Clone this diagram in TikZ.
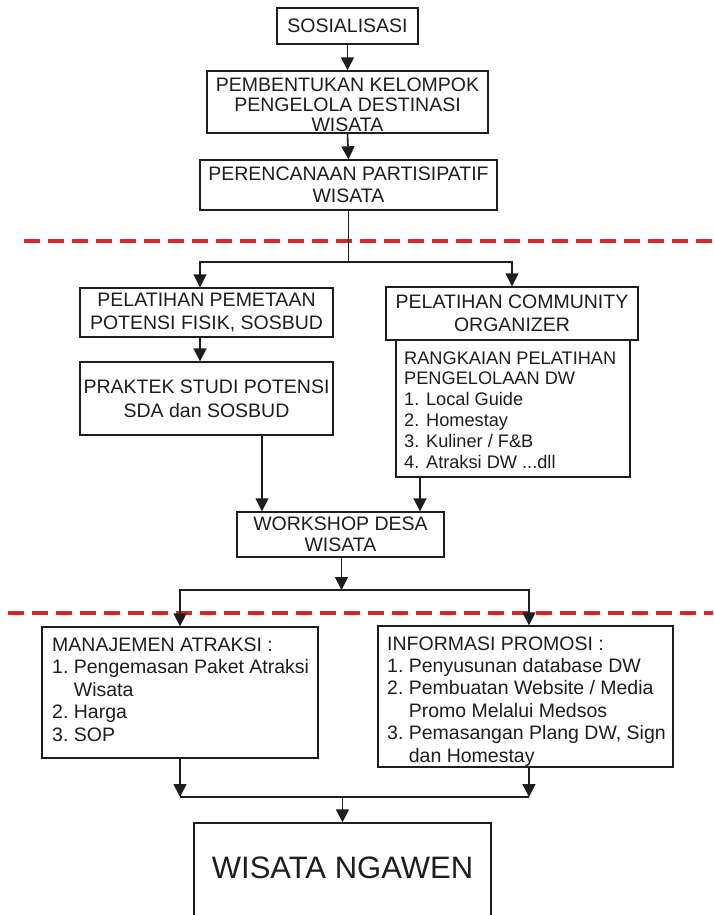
\documentclass[tikz,border=0pt]{standalone}
\usepackage{fontspec}
\setmainfont{Liberation Sans}
\usetikzlibrary{arrows.meta}
\definecolor{ink}{RGB}{30,30,30}
\definecolor{dashred}{RGB}{215,40,40}
\tikzset{
  box/.style={draw=ink, line width=1.4pt, rectangle, inner sep=0pt, align=center, text=ink,
    font=\fontsize{19.5}{22}\selectfont},
  txt/.style={inner sep=0pt, text=ink, font=\fontsize{19.5}{22}\selectfont},
  arr/.style={draw=ink, line width=1.6pt, -{Triangle[length=13pt,width=13pt]}},
  conn/.style={draw=ink, line width=1.6pt},
  redline/.style={draw=dashred, line width=3.2pt, dash pattern=on 16pt off 8pt}
}
\begin{document}
\begin{tikzpicture}[x=1pt,y=-1pt]
\useasboundingbox (0,0) rectangle (713,915);
\fill[white] (0,0) rectangle (713,915);

% red dashed separators
\coordinate (r1a) at (24,241); \coordinate (r1b) at (713,241);
\coordinate (r2a) at (8,613); \coordinate (r2b) at (713,613);
\draw[redline] (r1a) -- (r1b);
\draw[redline] (r2a) -- (r2b);

% boxes
\node[box, minimum width=141pt, minimum height=36pt] (sos) at (347.5,26) {SOSIALISASI};
\node[box, minimum width=281pt, minimum height=62pt] (pem) at (347.5,102) {};
\node[txt, align=center, anchor=north, font=\fontsize{19.5}{20}\selectfont] (pemt) at (347.5,78)
  {PEMBENTUKAN KELOMPOK\\PENGELOLA DESTINASI\\WISATA};
\node[box, minimum width=297pt, minimum height=50pt] (per) at (348.5,185) {PERENCANAAN PARTISIPATIF\\WISATA};

\node[box, minimum width=253pt, minimum height=49pt, font=\fontsize{19.5}{23}\selectfont] (pp) at (206.5,312.5) {PELATIHAN PEMETAAN\\POTENSI FISIK, SOSBUD};
\node[box, minimum width=253pt, minimum height=73pt, font=\fontsize{19.5}{24}\selectfont] (pr) at (206.5,398.5) {PRAKTEK STUDI POTENSI\\SDA dan SOSBUD};

\node[box, minimum width=252pt, minimum height=53pt, font=\fontsize{19.5}{23}\selectfont] (pc) at (512,313.5) {PELATIHAN COMMUNITY\\ORGANIZER};
\node[box, minimum width=234pt, minimum height=137pt] (rk) at (513,408.5) {};
\node[txt, anchor=base west] (rkt) at (404,364) {\fontsize{18.2}{20.8}\selectfont
  \begin{tabular}[t]{@{}l@{}}
  RANGKAIAN PELATIHAN\\
  PENGELOLAAN DW\\
  1. Local Guide\\
  2. Homestay\\
  3. Kuliner / F\&B\\
  4. Atraksi DW ...dll
  \end{tabular}};

\node[box, minimum width=207pt, minimum height=45pt, font=\fontsize{19.5}{21}\selectfont] (ws) at (340.5,534.5) {WORKSHOP DESA\\WISATA};

\node[box, minimum width=276pt, minimum height=131pt] (mj) at (180,692.5) {};
\node[txt, anchor=base west] (mjt) at (52,651) {\fontsize{19.5}{22.5}\selectfont
  \begin{tabular}[t]{@{}l@{\ }l@{}}
  \multicolumn{2}{@{}l@{}}{MANAJEMEN ATRAKSI :}\\
  1. & Pengemasan Paket Atraksi\\
     & Wisata\\
  2. & Harga\\
  3. & SOP
  \end{tabular}};

\node[box, minimum width=295pt, minimum height=141pt] (ip) at (525.5,696.5) {};
\node[txt, anchor=base west] (ipt) at (387,650) {\fontsize{19.5}{22.4}\selectfont
  \begin{tabular}[t]{@{}l@{\ }l@{}}
  \multicolumn{2}{@{}l@{}}{INFORMASI PROMOSI :}\\
  1. & Penyusunan database DW\\
  2. & Pembuatan Website / Media\\
     & Promo Melalui Medsos\\
  3. & Pemasangan Plang DW, Sign\\
     & dan Homestay
  \end{tabular}};

\node[box, minimum width=297pt, minimum height=120pt] (wn) at (342.5,883) {};
\node[txt, font=\fontsize{31}{34}\selectfont] (wnt) at (342.5,868) {WISATA NGAWEN};

% connectors
\draw[arr] (sos.south) -- (pem.north);
\draw[arr] (pem.south) -- (per.north);
\coordinate (j1) at (348.5,262);
\draw[conn] (per.south) -- (j1);
\draw[arr] (j1) -| ([xshift=-6.5pt]pp.north);
\draw[arr] (j1) -| (pc.north);
\draw[arr] ([xshift=-6.5pt]pp.south) -- ([xshift=-6.5pt]pr.north);
\draw[arr] ([xshift=55.5pt]pr.south) coordinate (a1) -- (a1 |- ws.north);
\draw[arr] ([xshift=-93pt]rk.south) coordinate (a2) -- (a2 |- ws.north);

\coordinate (j2) at (341.5,590);
\draw[arr] ([xshift=1pt]ws.south) -- (j2);
\draw[arr] (j2) -| (mj.north);
\draw[arr] (j2) -| ([xshift=3.5pt]ip.north);

\coordinate (j3) at (342.5,797);
\draw[arr] (mj.south) coordinate (b1) -- (b1 |- j3);
\draw[arr] ([xshift=3.5pt]ip.south) coordinate (b2) -- (b2 |- j3);
\draw[conn] (b1 |- j3) -- (b2 |- j3);
\draw[arr] (j3) -- (wn.north);
\end{tikzpicture}
\end{document}
